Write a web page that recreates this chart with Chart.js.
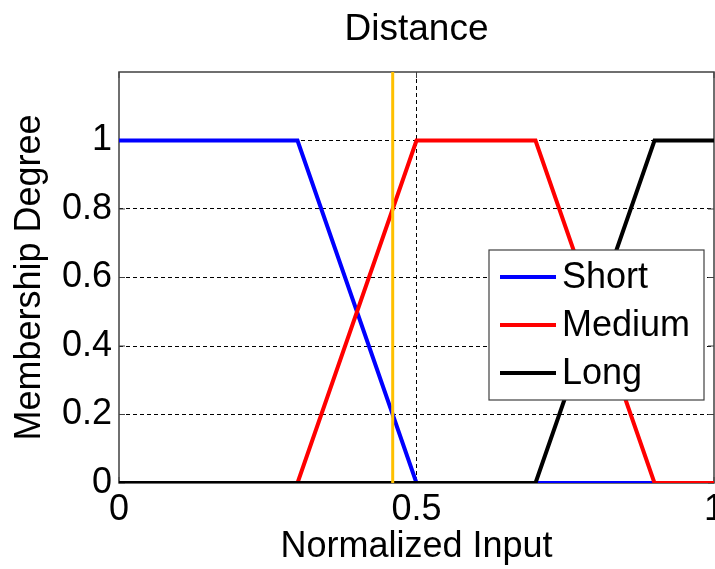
<!DOCTYPE html>
<html>
<head>
<meta charset="utf-8">
<title>Distance</title>
<script src="https://cdn.jsdelivr.net/npm/chart.js@4.4.1/dist/chart.umd.min.js"></script>
<style>
html, body { margin: 0; padding: 0; background: #fff; }
#wrap { width: 715px; height: 569px; }
</style>
</head>
<body>
<div id="wrap"><canvas id="mf-chart"></canvas></div>
<script>
// membership functions
const shortX = [0, 0.3, 0.5, 1];
const shortY = [1, 1, 0, 0];
const mediumX = [0, 0.3, 0.5, 0.7, 0.9, 1];
const mediumY = [0, 0, 1, 1, 0, 0];
const longX = [0, 0.7, 0.9, 1];
const longY = [0, 0, 1, 1];
// current input marker
const cutX = [0.46, 0.46];
const cutY = [0, 1.2];
const seriesLabels = ['Short', 'Medium', 'Long'];
const xTicks = [0, 0.5, 1];
const yTicks = [0, 0.2, 0.4, 0.6, 0.8, 1];

const toPoints = (xs, ys) => xs.map((x, i) => ({x: x, y: ys[i]}));

Chart.defaults.font.family = '"Liberation Sans", Arial, sans-serif';
Chart.defaults.color = '#000';

// box round the plot area + little inward ticks, matlab style
const framePlugin = {
    id: 'frame',
    beforeDatasetsDraw: function(chart) {
        const ctx = chart.ctx;
        const a = chart.chartArea;
        const xs = chart.scales.x;
        const ys = chart.scales.y;
        ctx.save();
        ctx.strokeStyle = '#404040';
        ctx.lineWidth = 1.5;
        ctx.strokeRect(a.left, a.top, a.right - a.left, a.bottom - a.top);
        ctx.lineWidth = 1;
        ctx.beginPath();
        yTicks.forEach((v) => {
            const y = ys.getPixelForValue(v);
            ctx.moveTo(a.left, y);
            ctx.lineTo(a.left + 6, y);
            ctx.moveTo(a.right, y);
            ctx.lineTo(a.right - 6, y);
        });
        xTicks.forEach((v) => {
            const x = xs.getPixelForValue(v);
            ctx.moveTo(x, a.bottom);
            ctx.lineTo(x, a.bottom - 6);
            ctx.moveTo(x, a.top);
            ctx.lineTo(x, a.top + 6);
        });
        ctx.stroke();
        ctx.restore();
    },
    // title centred over the axes, not over the whole canvas
    afterDraw: function(chart) {
        const ctx = chart.ctx;
        const a = chart.chartArea;
        ctx.save();
        ctx.font = '37px "Liberation Sans", Arial, sans-serif';
        ctx.fillStyle = '#000';
        ctx.textAlign = 'center';
        ctx.textBaseline = 'middle';
        ctx.fillText('Distance', (a.left + a.right) / 2, 30);
        ctx.restore();
    }
};

// legend box sitting inside the axes
const boxLegend = {
    id: 'boxLegend',
    afterDraw: function(chart) {
        const ctx = chart.ctx;
        const left = 489, top = 250, width = 215, height = 150;
        ctx.save();
        ctx.fillStyle = '#fff';
        ctx.fillRect(left, top, width, height);
        ctx.strokeStyle = '#404040';
        ctx.lineWidth = 1.2;
        ctx.strokeRect(left, top, width, height);
        ctx.font = '36px "Liberation Sans", Arial, sans-serif';
        ctx.textBaseline = 'middle';
        ctx.textAlign = 'left';
        seriesLabels.forEach((label, i) => {
            const ds = chart.data.datasets[i];
            const y = top + 27 + i * 48;
            ctx.strokeStyle = ds.borderColor;
            ctx.lineWidth = 4;
            ctx.beginPath();
            ctx.moveTo(left + 11, y);
            ctx.lineTo(left + 67, y);
            ctx.stroke();
            ctx.fillStyle = '#000';
            ctx.fillText(label, left + 73, y + 1);
        });
        ctx.restore();
    }
};

const innerGrid = (ctx) => {
    const v = ctx.tick ? ctx.tick.value : null;
    return (v !== null && v > 0 && v < ctx.scale.max) ? '#000' : 'rgba(0,0,0,0)';
};

const canvas = document.getElementById('mf-chart');
const chart = new Chart(canvas.getContext('2d'), {
    type: 'line',
    data: {
        datasets: [{
            label: seriesLabels[0],
            data: toPoints(shortX, shortY),
            borderColor: '#0000ff',
            order: 3,
        }, {
            label: seriesLabels[1],
            data: toPoints(mediumX, mediumY),
            borderColor: '#ff0000',
            order: 2,
        }, {
            label: seriesLabels[2],
            data: toPoints(longX, longY),
            borderColor: '#000000',
            order: 1,
        }, {
            label: 'input',
            data: toPoints(cutX, cutY),
            borderColor: '#ffc000',
            borderWidth: 3,
            order: 0,
        }],
    },
    options: {
        responsive: true,
        maintainAspectRatio: false,
        animation: false,
        layout: {
            padding: {left: 0, right: 1, top: 72, bottom: 0},
        },
        elements: {
            point: {radius: 0},
            line: {borderWidth: 4, tension: 0, fill: false},
        },
        plugins: {
            legend: {display: false},
            tooltip: {enabled: false},
            title: {display: false},
        },
        scales: {
            x: {
                type: 'linear',
                min: 0,
                max: 1,
                afterBuildTicks: (scale) => {
                    scale.ticks = xTicks.map((v) => ({value: v}));
                },
                afterFit: (scale) => {
                    scale.height = 86;
                    // let the last label run off the edge like the original
                    scale.paddingRight = 0;
                    scale.paddingLeft = 0;
                },
                ticks: {
                    font: {size: 36},
                    color: '#000',
                    padding: 5,
                    maxRotation: 0,
                    autoSkip: false,
                    callback: (v) => String(v),
                },
                grid: {
                    color: innerGrid,
                    lineWidth: 1,
                    drawTicks: false,
                },
                border: {display: false, dash: [4, 3]},
                title: {
                    display: true,
                    text: 'Normalized Input',
                    color: '#000',
                    font: {size: 36},
                    padding: {top: 0, bottom: 0},
                },
            },
            y: {
                type: 'linear',
                min: 0,
                max: 1.2,
                afterBuildTicks: (scale) => {
                    scale.ticks = yTicks.map((v) => ({value: v}));
                },
                afterFit: (scale) => {
                    scale.width = 119;
                },
                ticks: {
                    font: {size: 36},
                    color: '#000',
                    padding: 7,
                    autoSkip: false,
                    callback: (v) => String(v),
                },
                grid: {
                    color: innerGrid,
                    lineWidth: 1,
                    drawTicks: false,
                },
                border: {display: false, dash: [4, 3]},
                title: {
                    display: true,
                    text: 'Membership Degree',
                    color: '#000',
                    font: {size: 36},
                    padding: {top: 8, bottom: 0},
                },
            },
        },
    },
    plugins: [framePlugin, boxLegend],
});
</script>
</body>
</html>
